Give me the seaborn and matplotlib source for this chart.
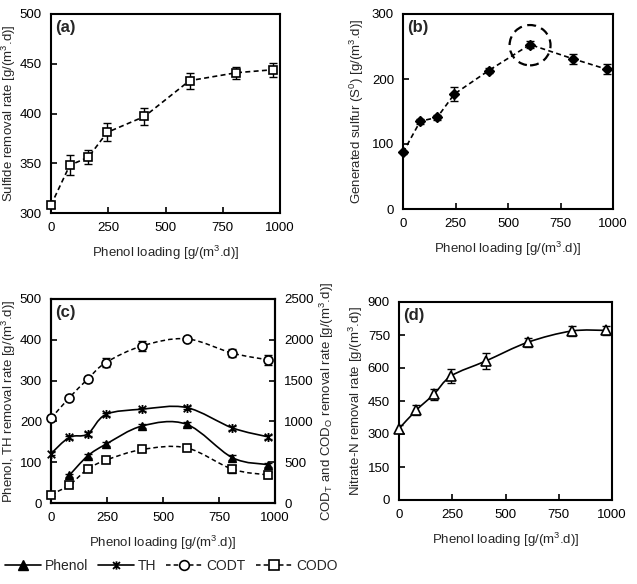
import numpy as np
import seaborn as sns
import matplotlib.pyplot as plt
from matplotlib.path import Path
from matplotlib.patches import PathPatch, Ellipse
from matplotlib.lines import Line2D

# phenol loading [g/(m3.d)]
loading = [0, 82, 163, 245, 408, 605, 810, 970]

# (a) sulfide removal rate
sulfide = [308, 348, 356, 381, 397, 433, 441, 444]
sulfide_err = [3, 10, 7, 9, 9, 8, 6, 7]

# (b) generated sulfur
sulfur = [87, 135, 141, 177, 213, 253, 231, 215]
sulfur_err = [3, 4, 4, 11, 4, 6, 8, 8]

# (c) phenol / TH (left axis), CODT / CODO (right axis)
phenol_x = loading[1:]
phenol = [68, 115, 144, 189, 193, 111, 94]
phenol_err = [4, 5, 5, 5, 5, 6, 5]
th = [121, 161, 169, 217, 230, 234, 184, 162]
th_err = [4, 4, 4, 4, 4, 4, 4, 4]
codt = [1037, 1291, 1516, 1721, 1926, 2012, 1836, 1754]
codt_err = [25, 25, 33, 50, 65, 20, 50, 60]
codo = [102, 221, 414, 525, 656, 676, 414, 344]
codo_err = [20, 20, 25, 25, 20, 20, 50, 40]

# (d) nitrate-N removal rate
nitrate = [324, 409, 480, 564, 632, 717, 768, 771]
nitrate_err = [15, 24, 26, 32, 38, 21, 24, 22]

sns.set_theme(style="ticks")
plt.rcParams['font.family'] = ['Liberation Sans', 'DejaVu Sans']
plt.rcParams['mathtext.default'] = 'regular'
plt.rcParams['axes.linewidth'] = 1.5
plt.rcParams['xtick.direction'] = 'in'
plt.rcParams['ytick.direction'] = 'in'

FS = 9.5
UNIT = ' [g/(m$^3$.d)]'
XLAB = 'Phenol loading' + UNIT

# X with a vertical bar (star marker)
star = Path([(-1, -1), (1, 1), (-1, 1), (1, -1), (0, -1.2), (0, 1.2)],
            [Path.MOVETO, Path.LINETO, Path.MOVETO, Path.LINETO, Path.MOVETO, Path.LINETO])


def smooth(ax, x, y, **kw):
    # Catmull-Rom curve through the points, drawn as cubic Bezier path
    p = np.column_stack([x, y]).astype(float)
    verts = [p[0]]
    codes = [Path.MOVETO]
    n = len(p)
    for i in range(n - 1):
        p0 = p[i - 1] if i > 0 else p[i]
        p3 = p[i + 2] if i + 2 < n else p[i + 1]
        c1 = p[i] + (p[i + 1] - p0) / 6
        c2 = p[i + 1] - (p3 - p[i]) / 6
        verts += [c1, c2, p[i + 1]]
        codes += [Path.CURVE4] * 3
    ax.add_patch(PathPatch(Path(verts, codes), fill=False, **kw))


def style(ax, ylim, ystep, label):
    ax.set_xlim(0, 1000)
    ax.set_xticks(range(0, 1001, 250))
    ax.set_ylim(*ylim)
    ax.set_yticks(np.arange(ylim[0], ylim[1] + 1, ystep))
    ax.tick_params(labelsize=FS, length=4, width=1.2, colors='black', pad=6.5)
    ax.set_xlabel(XLAB, fontsize=FS, labelpad=7)
    ax.text(0.02, 0.97, label, transform=ax.transAxes, fontsize=12,
            fontweight='bold', va='top', ha='left')
    for s in ax.spines.values():
        s.set_color('black')


fig = plt.figure(figsize=(6.37, 5.84), dpi=100)
W, H = 637, 584


def axes_px(l, t, r, b):
    return fig.add_axes([l / W, 1 - b / H, (r - l) / W, (b - t) / H])


dash = (0, (3, 2))
ebkw = dict(fmt='none', ecolor='black', elinewidth=1, capsize=3, capthick=1, zorder=2)
mkw = dict(color='black', zorder=3, clip_on=False, linestyle='none')

# (a)
ax = axes_px(51, 14, 280, 213)
sns.lineplot(x=loading, y=sulfide, ax=ax, color='black', lw=1.2, linestyle=dash, zorder=1)
ax.errorbar(loading, sulfide, yerr=sulfide_err, **ebkw)
ax.plot(loading, sulfide, marker='s', markersize=6, markerfacecolor='white',
        markeredgewidth=1.2, **mkw)
style(ax, (300, 500), 50, '(a)')
ax.set_ylabel('Sulfide removal rate' + UNIT, fontsize=FS, labelpad=1)

# (b)
ax = axes_px(403, 14, 613, 209)
sns.lineplot(x=loading, y=sulfur, ax=ax, color='black', lw=1.2, linestyle=dash, zorder=1)
ax.errorbar(loading, sulfur, yerr=sulfur_err, **ebkw)
ax.plot(loading, sulfur, marker='D', markersize=5.5, markerfacecolor='black', **mkw)
style(ax, (0, 300), 100, '(b)')
ax.set_ylabel('Generated sulfur (S$^0$)' + UNIT, fontsize=FS, labelpad=4)
ax.add_patch(Ellipse((605, 252), 195, 62, fill=False, ec='black', lw=1.6,
                     linestyle=(0, (4, 2.5))))

# (c)
ax = axes_px(51, 299, 275, 503)
ax2 = ax.twinx()
smooth(ax, phenol_x, phenol, ec='black', lw=1.2, zorder=1)
smooth(ax, loading, th, ec='black', lw=1.2, zorder=1)
ax.errorbar(phenol_x, phenol, yerr=phenol_err, **ebkw)
ax.errorbar(loading, th, yerr=th_err, **ebkw)
ax.plot(phenol_x, phenol, marker='^', markersize=6, **mkw)
ax.plot(loading, th, marker=star, markersize=6.5, markeredgewidth=1.3, **mkw)

smooth(ax2, loading, codt, ec='black', lw=1.1, linestyle=dash, zorder=1)
smooth(ax2, loading, codo, ec='black', lw=1.1, linestyle=dash, zorder=1)
ax2.errorbar(loading, codt, yerr=codt_err, **ebkw)
ax2.errorbar(loading, codo, yerr=codo_err, **ebkw)
ax2.plot(loading, codt, marker='o', markersize=6.5, markerfacecolor='white',
         markeredgewidth=1.2, **mkw)
ax2.plot(loading, codo, marker='s', markersize=6, markerfacecolor='white',
         markeredgewidth=1.2, **mkw)

style(ax, (0, 500), 100, '(c)')
ax.set_ylabel('Phenol, TH removal rate' + UNIT, fontsize=FS, labelpad=1)
ax2.set_ylim(0, 2500)
ax2.set_yticks(range(0, 2501, 500))
ax2.tick_params(labelsize=FS, length=4, width=1.2, colors='black', pad=6.5)
ax2.set_ylabel('COD$_T$ and COD$_O$ removal rate' + UNIT, fontsize=FS, labelpad=3)
for s in ax2.spines.values():
    s.set_color('black')

handles = [
    Line2D([], [], color='black', lw=1.2, marker='^', markersize=7),
    Line2D([], [], color='black', lw=1.2, marker=star, markersize=6, markeredgewidth=1.3),
    Line2D([], [], color='black', lw=1.1, linestyle=dash, marker='o', markersize=7,
           markerfacecolor='white', markeredgewidth=1.2),
    Line2D([], [], color='black', lw=1.1, linestyle=dash, marker='s', markersize=7,
           markerfacecolor='white', markeredgewidth=1.2),
]
fig.legend(handles, ['Phenol', 'TH', 'CODT', 'CODO'], loc='center',
           bbox_to_anchor=(171 / W, 1 - 566 / H), ncol=4, frameon=False,
           fontsize=10, handlelength=2.6, handletextpad=0.3, columnspacing=0.7)

# (d)
ax = axes_px(399, 302, 612, 500)
smooth(ax, loading, nitrate, ec='black', lw=1.2, zorder=1)
ax.errorbar(loading, nitrate, yerr=nitrate_err, **ebkw)
ax.plot(loading, nitrate, marker='^', markersize=7, markerfacecolor='white',
        markeredgewidth=1.2, **mkw)
style(ax, (0, 900), 150, '(d)')
ax.set_ylabel('Nitrate-N removal rate' + UNIT, fontsize=FS, labelpad=2)

fig.savefig('out.png', dpi=100, facecolor='white')
